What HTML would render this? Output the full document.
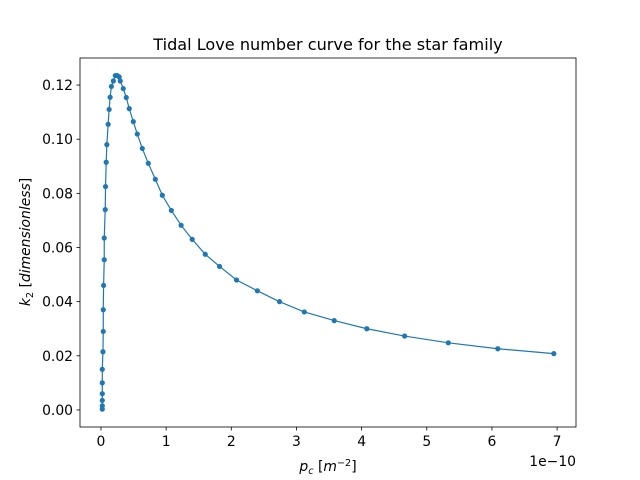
<!DOCTYPE html>
<html><head><meta charset="utf-8"><style>
body{margin:0;background:#fff;}
svg{display:block;font-family:"DejaVu Sans","Liberation Sans",sans-serif;}
</style></head><body>
<svg id="chart" width="640" height="480" xmlns="http://www.w3.org/2000/svg"></svg>
<script>
const xTicks=[0,1,2,3,4,5,6,7];
const yTicks=[0.00,0.02,0.04,0.06,0.08,0.10,0.12];
const xValues=[0.02,0.02,0.02,0.02,0.02,0.02,0.03,0.035,0.035,0.04,0.05,0.05,0.065,0.07,0.08,0.09,0.11,0.125,0.14,0.16,0.19,0.22,0.25,0.28,0.296,0.342,0.388,0.434,0.496,0.557,0.634,0.726,0.834,0.941,1.08,1.23,1.4,1.6,1.82,2.08,2.4,2.74,3.12,3.58,4.08,4.66,5.33,6.09,6.95];
const yValues=[0.0003,0.0015,0.0035,0.006,0.010,0.015,0.0215,0.029,0.037,0.046,0.0555,0.0635,0.074,0.0825,0.0915,0.098,0.1055,0.111,0.1155,0.1195,0.1215,0.1235,0.1235,0.123,0.1215,0.1187,0.1154,0.1113,0.1065,0.1019,0.0966,0.0911,0.0852,0.0793,0.0737,0.0682,0.063,0.0575,0.053,0.048,0.044,0.040,0.0362,0.033,0.030,0.0273,0.0248,0.0226,0.0208];
const L=80,R=576,T=58,B=427;
const xmin=-0.322,xmax=7.29,ymin=-0.0063,ymax=0.13;
const sx=v=>L+(v-xmin)/(xmax-xmin)*(R-L);
const sy=v=>B-(v-ymin)/(ymax-ymin)*(B-T);
const svg=document.getElementById('chart');
const NS='http://www.w3.org/2000/svg';
function mk(tag,attrs,txt){const e=document.createElementNS(NS,tag);for(const k in attrs)e.setAttribute(k,attrs[k]);if(txt!==undefined)e.textContent=txt;svg.appendChild(e);return e;}
let d=xValues.map((x,i)=>(i?'L':'M')+sx(x).toFixed(2)+','+sy(yValues[i]).toFixed(2)).join('');
const line=mk('path',{d:d,fill:'none',stroke:'#1f77b4','stroke-width':1.2});


xValues.forEach((x,i)=>{const c=mk('circle',{cx:sx(x),cy:sy(yValues[i]),r:2.6,fill:'#1f77b4'});

});
const frame=mk('rect',{x:L,y:T,width:R-L,height:B-T,fill:'none',stroke:'#000','stroke-width':0.8});


xTicks.forEach(t=>{const x=sx(t);mk('line',{x1:x,x2:x,y1:B,y2:B+3.5,stroke:'#000','stroke-width':0.8});
const tx=mk('text',{x:x,y:B+19,'font-size':13.9,'text-anchor':'middle'},String(t));

});
yTicks.forEach(t=>{const y=sy(t);mk('line',{x1:L-3.5,x2:L,y1:y,y2:y,stroke:'#000','stroke-width':0.8});
const tx=mk('text',{x:L-7,y:y+5,'font-size':13.9,'text-anchor':'end'},t.toFixed(2));

});
</script>
<svg style="position:absolute;left:0;top:0" width="640" height="480" xmlns="http://www.w3.org/2000/svg" font-family="DejaVu Sans, Liberation Sans, sans-serif">
<text x="328" y="50" font-size="16.1" text-anchor="middle">Tidal Love number curve for the star family</text>
<text x="576" y="466" font-size="13.9" text-anchor="end">1e−10</text>
<text x="328" y="471" font-size="13.9" text-anchor="middle"><tspan font-style="italic">p</tspan><tspan font-size="9.7" dy="3" font-style="italic">c</tspan><tspan dy="-3"> [</tspan><tspan font-style="italic">m</tspan><tspan font-size="9.7" dy="-5">−2</tspan><tspan dy="5">]</tspan></text>
<text transform="translate(30,242) rotate(-90)" font-size="13.9" text-anchor="middle"><tspan font-style="italic">k</tspan><tspan font-size="9.7" dy="3">2</tspan><tspan dy="-3"> [</tspan><tspan font-style="italic">dimensionless</tspan><tspan>]</tspan></text>
</svg>
</body></html>
